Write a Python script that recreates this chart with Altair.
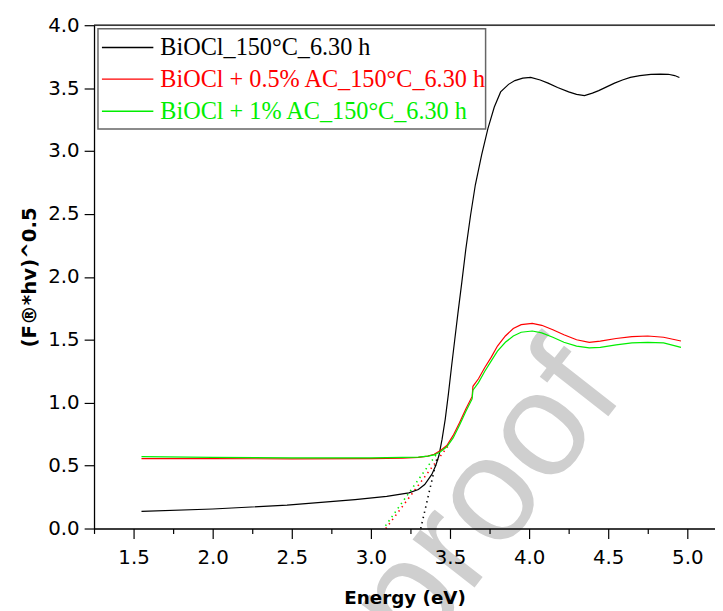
import altair as alt
import pandas as pd

# ---------------- data ----------------
black_E = [1.55, 2.0, 2.47, 2.9, 3.1, 3.24, 3.30, 3.34, 3.385, 3.41, 3.43, 3.45, 3.47, 3.49,
           3.51, 3.53, 3.55, 3.575, 3.60, 3.63, 3.66, 3.70, 3.74, 3.78, 3.82, 3.87, 3.91, 3.96,
           4.01, 4.07, 4.12, 4.18, 4.25, 4.30, 4.35, 4.40, 4.44, 4.49, 4.54, 4.59, 4.64, 4.70,
           4.77, 4.83, 4.88, 4.92, 4.95]
black_F = [0.136, 0.155, 0.186, 0.23, 0.255, 0.283, 0.31, 0.35, 0.43, 0.50, 0.58, 0.71, 0.87, 1.07,
           1.29, 1.50, 1.71, 1.96, 2.22, 2.49, 2.73, 2.97, 3.18, 3.35, 3.47, 3.53, 3.56, 3.58,
           3.585, 3.565, 3.54, 3.505, 3.47, 3.45, 3.44, 3.46, 3.48, 3.51, 3.54, 3.565, 3.585, 3.60,
           3.61, 3.612, 3.61, 3.60, 3.585]

red_E = [1.55, 2.0, 2.5, 3.0, 3.2, 3.3, 3.36, 3.40, 3.44, 3.48, 3.52, 3.56, 3.60, 3.64, 3.645,
         3.68, 3.72, 3.76, 3.80, 3.85, 3.90, 3.95, 4.02, 4.08, 4.15, 4.22, 4.30, 4.38, 4.45,
         4.55, 4.65, 4.75, 4.85, 4.96]
red_F = [0.556, 0.556, 0.553, 0.556, 0.560, 0.565, 0.575, 0.59, 0.62, 0.66, 0.74, 0.84, 0.95, 1.05, 1.13,
         1.19, 1.28, 1.36, 1.45, 1.53, 1.59, 1.62, 1.63, 1.615, 1.58, 1.54, 1.50, 1.48, 1.49,
         1.51, 1.525, 1.53, 1.52, 1.49]

green_E = red_E
green_F = [0.572, 0.566, 0.561, 0.562, 0.565, 0.568, 0.575, 0.585, 0.61, 0.65, 0.72, 0.82, 0.93, 1.03, 1.10,
           1.16, 1.25, 1.33, 1.41, 1.48, 1.53, 1.56, 1.57, 1.555, 1.52, 1.48, 1.45, 1.435, 1.44,
           1.46, 1.475, 1.48, 1.475, 1.44]

# tangent (Tauc extrapolation) lines: two end points each
tan_black_E = [3.315, 3.42]
tan_black_F = [0.0, 0.57]
tan_red_E = [3.094, 3.49]
tan_red_F = [0.0, 0.66]
tan_green_E = [3.08, 3.42]
tan_green_F = [0.0, 0.60]

series_names = ["BiOCl_150°C_6.30 h", "BiOCl + 0.5% AC_150°C_6.30 h", "BiOCl + 1% AC_150°C_6.30 h"]
series_colors = ["#000000", "#ff0000", "#00ee00"]

x_tick_values = [1.25, 1.5, 1.75, 2.0, 2.25, 2.5, 2.75, 3.0, 3.25, 3.5, 3.75, 4.0, 4.25, 4.5, 4.75, 5.0]
y_tick_values = [0.0, 0.25, 0.5, 0.75, 1.0, 1.25, 1.5, 1.75, 2.0, 2.25, 2.5, 2.75, 3.0, 3.25, 3.5, 3.75, 4.0]

X_MIN, X_MAX = 1.25, 5.175
Y_MIN, Y_MAX = 0.0, 4.0
W, H = 628, 509

# ---------------- encodings ----------------
major_test = "abs(datum.value*2 - round(datum.value*2)) < 0.001"
label_expr = major_test + " ? format(datum.value, '.1f') : ''"

xaxis = alt.Axis(
    values=x_tick_values, labelExpr=label_expr, labelOverlap=False, labelFlush=False,
    tickSize={"condition": {"test": major_test, "value": 10}, "value": 5},
    tickColor="black", tickWidth=1.2, domainColor="black", domainWidth=1.3,
    labelFont="DejaVu Sans", labelFontSize=20, labelColor="black", labelPadding=9,
    title="Energy (eV)", titleFont="DejaVu Sans", titleFontSize=18.5, titleFontWeight="bold",
    titleColor="black", titlePadding=22, grid=False, zindex=1,
)
yaxis = alt.Axis(
    values=y_tick_values, labelExpr=label_expr, labelOverlap=False, labelFlush=False,
    tickSize={"condition": {"test": major_test, "value": 10}, "value": 5},
    tickColor="black", tickWidth=1.2, domainColor="black", domainWidth=1.3,
    labelFont="DejaVu Sans", labelFontSize=20, labelColor="black", labelPadding=5,
    title="(F®*hv)^0.5", titleFont="DejaVu Sans", titleFontSize=20, titleFontWeight="bold",
    titleColor="black", titlePadding=8, grid=False, zindex=1,
)
xscale = alt.Scale(domain=[X_MIN, X_MAX], nice=False, zero=False)
yscale = alt.Scale(domain=[Y_MIN, Y_MAX], nice=False, zero=False)


def enc(chart):
    return chart.encode(
        x=alt.X("E:Q", scale=xscale, axis=xaxis),
        y=alt.Y("F:Q", scale=yscale, axis=yaxis),
    )


def frame(E, F):
    return pd.DataFrame({"E": E, "F": F})


one = pd.DataFrame({"a": [0]})

# watermark (below everything)
watermark = alt.Chart(one).mark_text(
    text="proof", font="Liberation Sans", fontSize=150, color="#cfcfcf",
    angle=308, align="center", baseline="middle",
).encode(x=alt.value(397), y=alt.value(480))

curves = [
    enc(alt.Chart(frame(black_E, black_F)).mark_line(color=series_colors[0], strokeWidth=1.2)),
    enc(alt.Chart(frame(red_E, red_F)).mark_line(color=series_colors[1], strokeWidth=1.2)),
    enc(alt.Chart(frame(green_E, green_F)).mark_line(color=series_colors[2], strokeWidth=1.2)),
]
tangents = [
    enc(alt.Chart(frame(tan_black_E, tan_black_F)).mark_line(color=series_colors[0], strokeWidth=1.6, strokeDash=[1.4, 4])),
    enc(alt.Chart(frame(tan_red_E, tan_red_F)).mark_line(color=series_colors[1], strokeWidth=1.6, strokeDash=[1.4, 4])),
    enc(alt.Chart(frame(tan_green_E, tan_green_F)).mark_line(color=series_colors[2], strokeWidth=1.6, strokeDash=[1.4, 4], strokeDashOffset=2)),
]

# top frame line
top_line = alt.Chart(one).mark_rule(color="black", strokeWidth=1.3).encode(
    x=alt.datum(X_MIN, scale=xscale), x2=alt.datum(X_MAX), y=alt.datum(Y_MAX, scale=yscale)
)

# legend box
legend_box = alt.Chart(one).mark_rect(fill="white", stroke="#666666", strokeWidth=1.5).encode(
    x=alt.value(4), x2=alt.value(396), y=alt.value(3.5), y2=alt.value(105)
)
legend_layers = [legend_box]
row_y = [22.5, 54.5, 87]
for name, col, ry in zip(series_names, series_colors, row_y):
    legend_layers.append(
        alt.Chart(one).mark_rule(color=col, strokeWidth=1.4).encode(
            x=alt.value(8), x2=alt.value(60), y=alt.value(ry)
        )
    )
    legend_layers.append(
        alt.Chart(one).mark_text(
            text=name, font="Liberation Serif", fontSize=24.5, color=col, align="left", baseline="middle"
        ).encode(x=alt.value(67), y=alt.value(ry + 1))
    )

chart = alt.layer(
    watermark, *tangents, *curves, top_line, *legend_layers
).properties(
    width=W, height=H,
    autosize=alt.AutoSizeParams(type="none"),
    padding={"left": 87, "top": 14, "right": 0, "bottom": 80},
).configure_view(stroke=None).configure(background="white")

chart.save("out.html", embed_options={"renderer": "svg", "actions": False})
